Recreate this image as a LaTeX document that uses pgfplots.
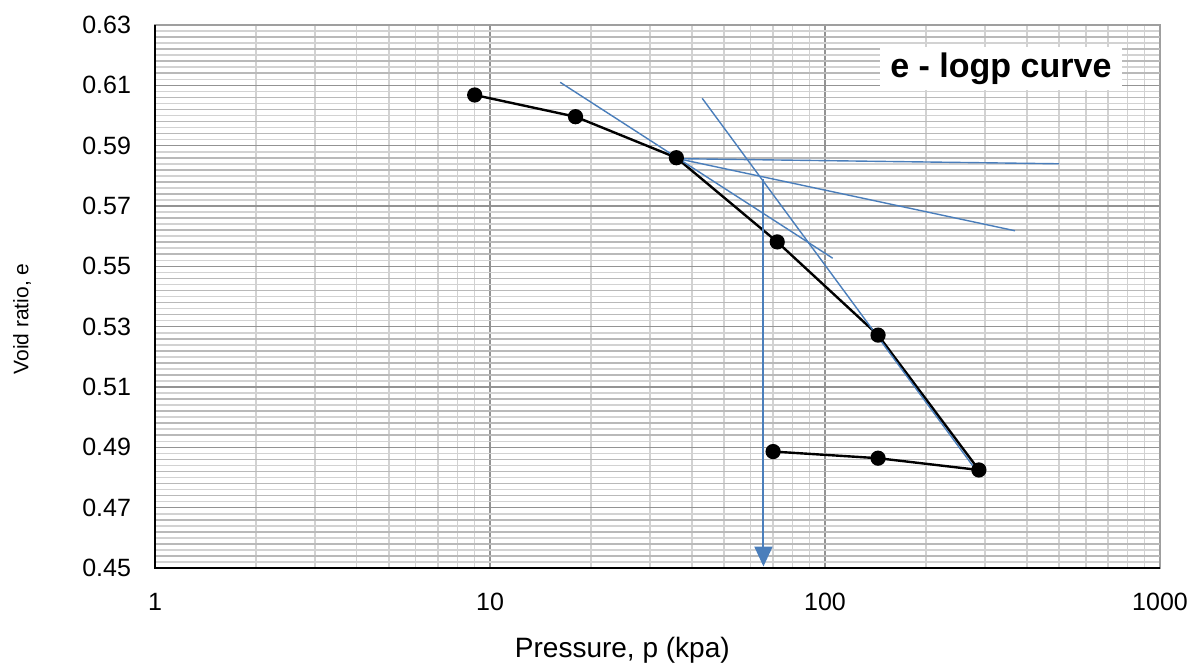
\documentclass[border=0pt]{standalone}
\usepackage{fontspec}
\setmainfont{Liberation Sans}
\usepackage{pgfplots}
\pgfplotsset{compat=1.18}
\usetikzlibrary{arrows.meta}
\definecolor{exblue}{HTML}{4A7EBB}
\begin{document}
\begin{tikzpicture}
\begin{axis}[
  scale only axis, width=502.5pt, height=271.5pt,
  xmode=log, xmin=1, xmax=1000, ymin=0.45, ymax=0.63,
  xtick={1,10,100,1000}, xticklabels={1,10,100,1000},
  ytick={0.45,0.47,0.49,0.51,0.53,0.55,0.57,0.59,0.61,0.63},
  yticklabels={0.45,0.47,0.49,0.51,0.53,0.55,0.57,0.59,0.61,0.63},
  minor y tick num=9,
  grid=both,
  major grid style={gray!85, line width=0.8pt},
  minor grid style={gray!35, line width=0.8pt},
  extra y ticks={0.454,0.458,0.462,0.466,0.474,0.478,0.482,0.486,0.494,0.498,0.502,0.506,0.514,0.518,0.522,0.526,0.534,0.538,0.542,0.546,0.554,0.558,0.562,0.566,0.574,0.578,0.582,0.586,0.594,0.598,0.602,0.606,0.614,0.618,0.622,0.626},
  extra y tick labels={},
  extra y tick style={grid=major, major grid style={gray!55, line width=0.8pt}},
  major tick length=0pt, minor tick length=0pt,
  axis line style={gray!75, line width=0.8pt},
  ticklabel style={font=\fontsize{12.5}{14}\selectfont},
  yticklabel style={xshift=-8.5pt},
  xticklabel style={yshift=-9pt},
  xlabel={Pressure, p (kpa)},
  ylabel={Void ratio, e},
  xlabel style={at={(axis description cs:0.465,0)}, anchor=center, yshift=-41pt, font=\fontsize{14}{16}\selectfont},
  ylabel style={at={(axis description cs:0,0.4586)}, anchor=center, yshift=66.5pt, font=\fontsize{10.5}{12}\selectfont},
  clip=false,
]
\draw[black, line width=1.3pt] (rel axis cs:0,1) -- (rel axis cs:0,0) -- (rel axis cs:1,0);
\addplot[black, line width=1.2pt, mark=*, mark size=3.2pt] coordinates {
  (9,0.6068) (18,0.5996) (36,0.5860) (72,0.5581) (144,0.5272) (288,0.4825) (144,0.4864) (70,0.4886)
};
\addplot[exblue, line width=0.7pt] coordinates {(16.2,0.6110) (105.4,0.5527)};
\addplot[exblue, line width=0.7pt] coordinates {(36,0.5857) (500,0.5840)};
\addplot[exblue, line width=0.7pt] coordinates {(36,0.5858) (369,0.5618)};
\addplot[exblue, line width=0.7pt] coordinates {(43,0.6057) (282,0.4825)};
\addplot[color=exblue, line width=1pt, -{Triangle[width=9pt,length=10pt]}] coordinates {(65.5,0.5790) (65.5,0.4505)};
\node[fill=white, inner sep=0pt, minimum width=121pt, minimum height=21.5pt, font=\bfseries\fontsize{17}{20}\selectfont] at (axis cs:335,0.6156) {e - logp curve};
\end{axis}
\pgfresetboundingbox
\path (-77.5pt,-49pt) rectangle (521pt,284pt);
\end{tikzpicture}
\end{document}
